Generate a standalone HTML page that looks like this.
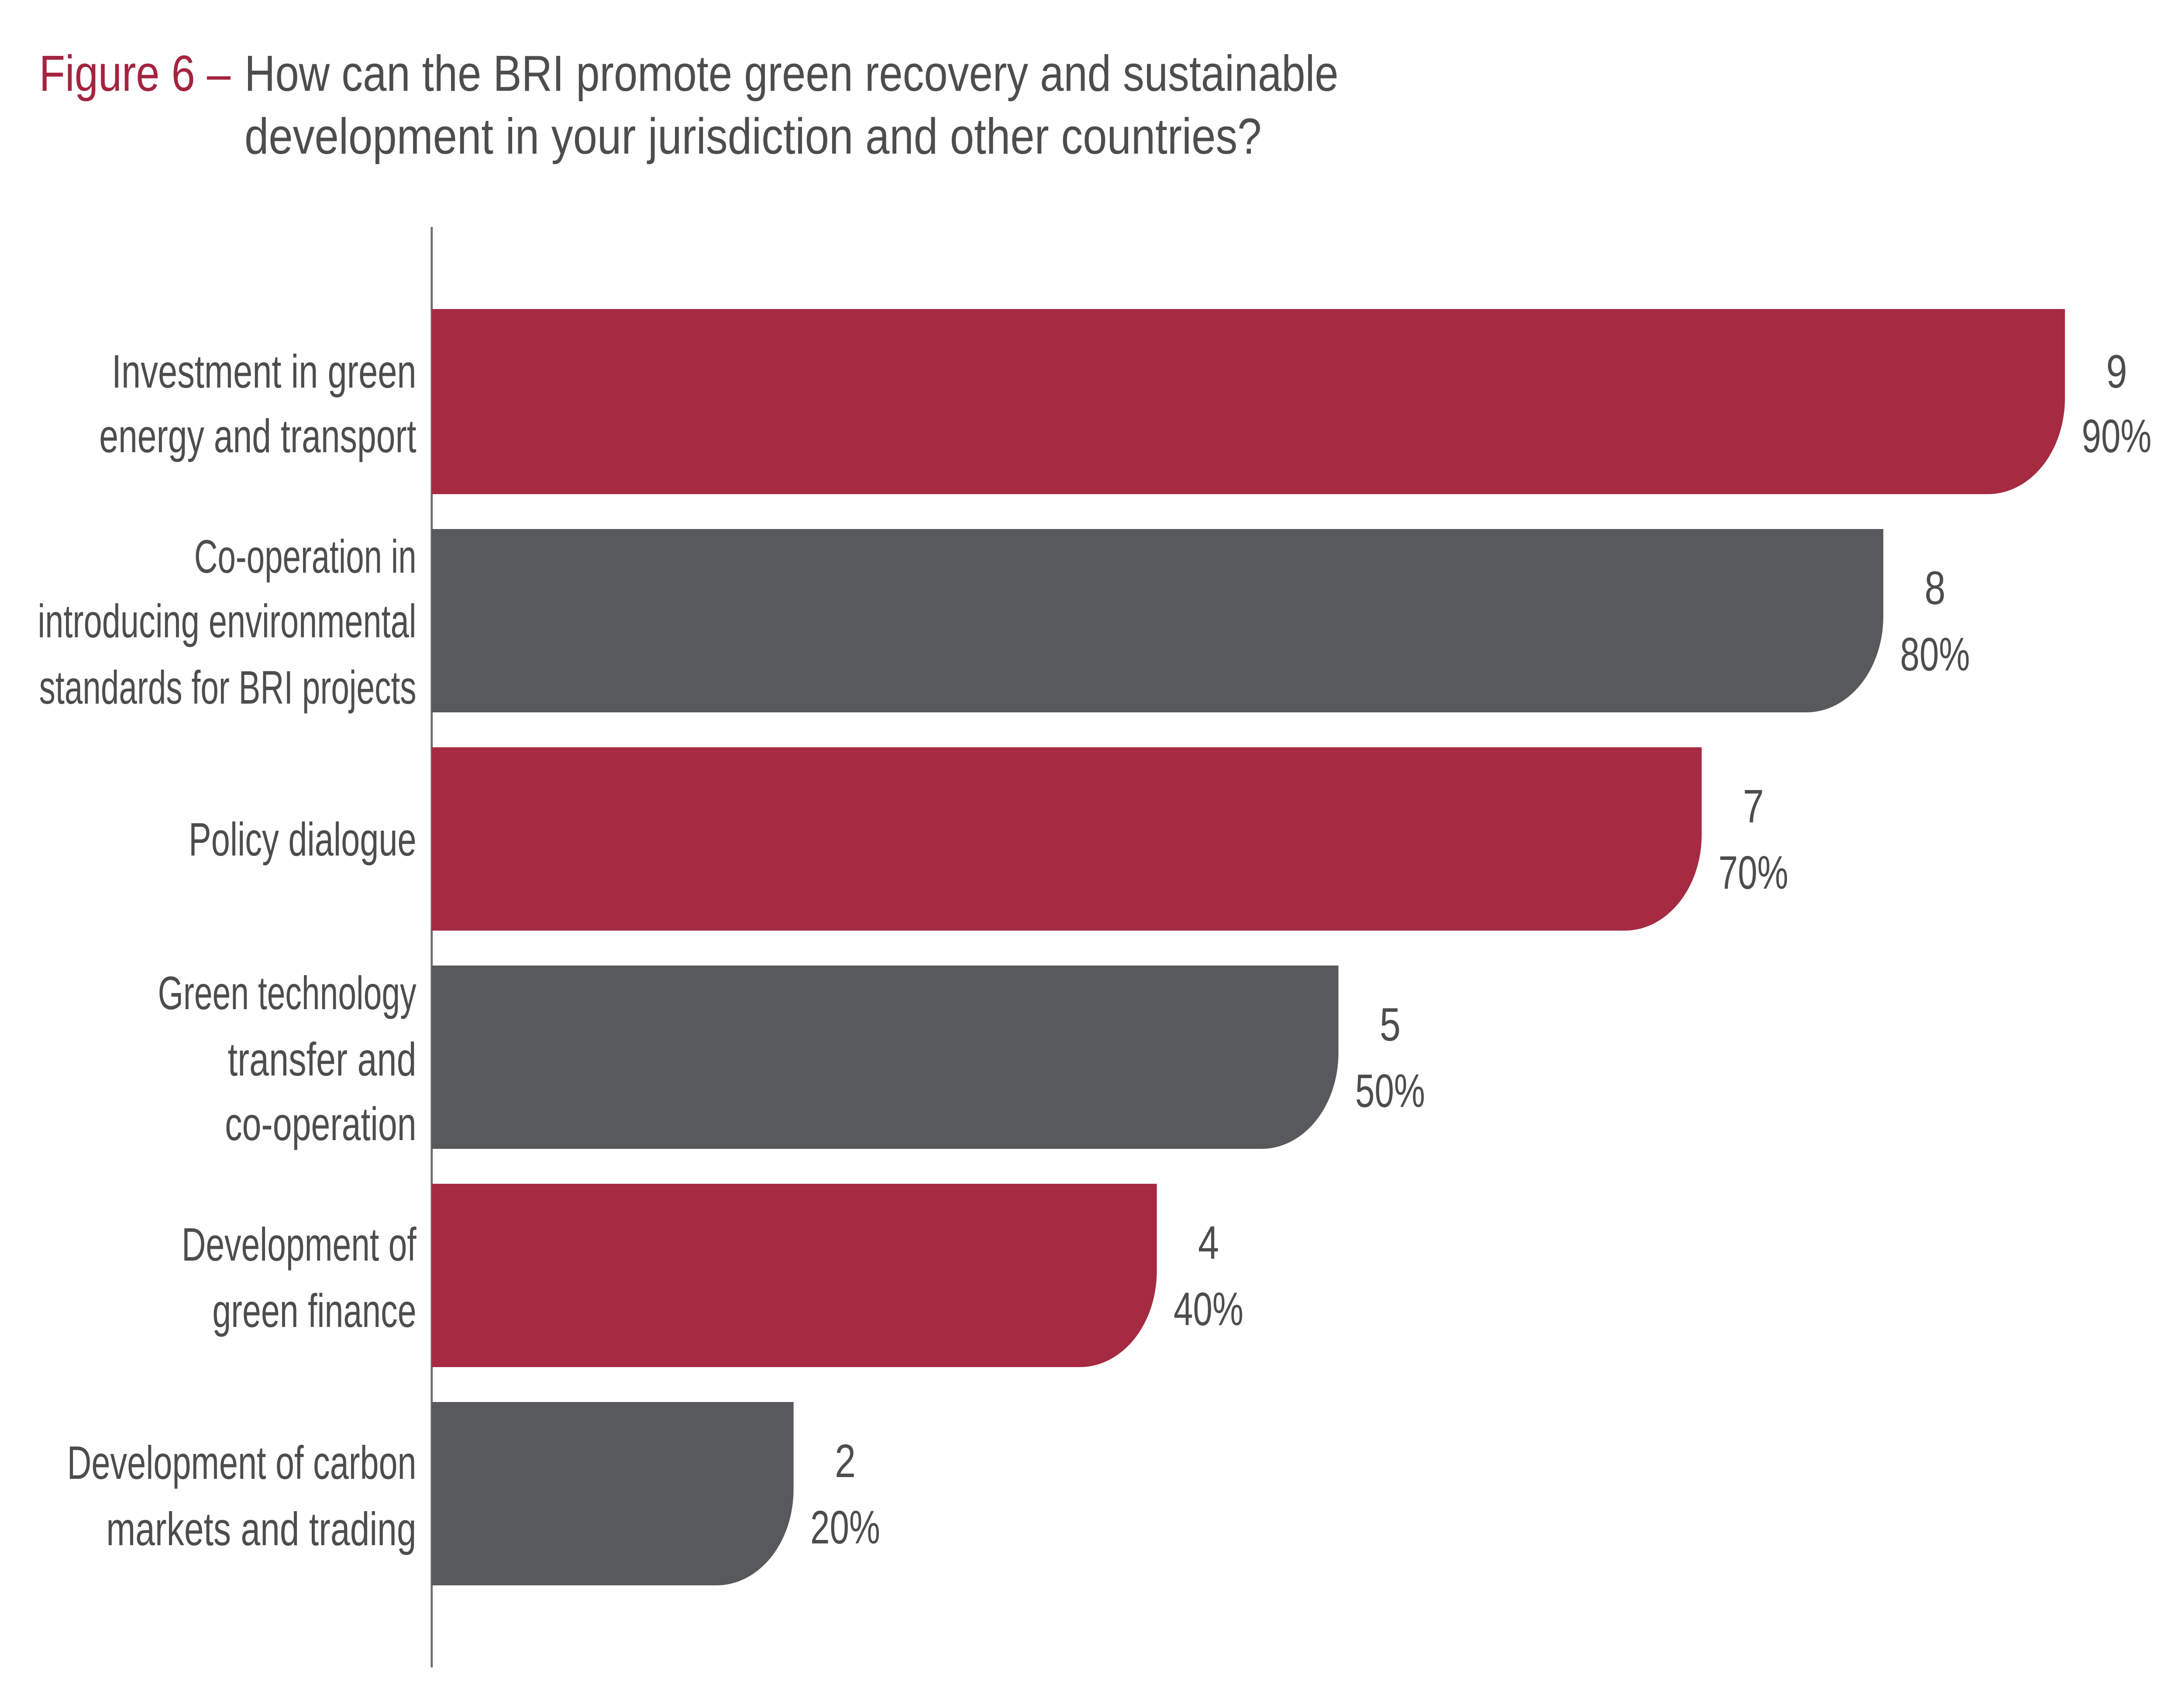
<!DOCTYPE html>
<html><head><meta charset="utf-8"><style>
html,body{margin:0;padding:0;background:#fff;width:100%;height:100%;overflow:hidden;}
svg{display:block;width:100vw;height:100vh;}
text{font-family:"Liberation Sans",sans-serif;fill:#4d4d4f;}
</style></head><body>
<svg viewBox="0 0 1562.5 978.25" preserveAspectRatio="none" xmlns="http://www.w3.org/2000/svg">
<rect width="1562.5" height="978.25" fill="#fff"/>
<text x="28" y="52" font-size="29" style="fill:#a3243f" textLength="137" lengthAdjust="spacingAndGlyphs">Figure 6 –</text>
<text x="175" y="52" font-size="29" textLength="783" lengthAdjust="spacingAndGlyphs">How can the BRI promote green recovery and sustainable</text>
<text x="175" y="88" font-size="29" textLength="728" lengthAdjust="spacingAndGlyphs">development in your jurisdiction and other countries?</text>
<line x1="309" y1="130" x2="309" y2="955" stroke="#6d6e70" stroke-width="1.5"/>
<g>
<path d="M309 177 H1478 V228 A55 55 0 0 1 1423 283 H309 Z" fill="#a52a42"/>
<path d="M309 303 H1348 V353 A55 55 0 0 1 1293 408 H309 Z" fill="#58595b"/>
<path d="M309 428 H1218 V478 A55 55 0 0 1 1163 533 H309 Z" fill="#a52a42"/>
<path d="M309 553 H958 V603 A55 55 0 0 1 903 658 H309 Z" fill="#58595b"/>
<path d="M309 678 H828 V728 A55 55 0 0 1 773 783 H309 Z" fill="#a52a42"/>
<path d="M309 803 H568 V853 A55 55 0 0 1 513 908 H309 Z" fill="#58595b"/>
</g>
<g font-size="27" text-anchor="end">
<text x="298" y="222" textLength="218" lengthAdjust="spacingAndGlyphs">Investment in green</text>
<text x="298" y="259" textLength="227" lengthAdjust="spacingAndGlyphs">energy and transport</text>
<text x="298" y="328" textLength="159" lengthAdjust="spacingAndGlyphs">Co-operation in</text>
<text x="298" y="365" textLength="271" lengthAdjust="spacingAndGlyphs">introducing environmental</text>
<text x="298" y="403" textLength="270" lengthAdjust="spacingAndGlyphs">standards for BRI projects</text>
<text x="298" y="490" textLength="163" lengthAdjust="spacingAndGlyphs">Policy dialogue</text>
<text x="298" y="578" textLength="185" lengthAdjust="spacingAndGlyphs">Green technology</text>
<text x="298" y="616" textLength="135" lengthAdjust="spacingAndGlyphs">transfer and</text>
<text x="298" y="653" textLength="137" lengthAdjust="spacingAndGlyphs">co-operation</text>
<text x="298" y="722" textLength="168" lengthAdjust="spacingAndGlyphs">Development of</text>
<text x="298" y="760" textLength="146" lengthAdjust="spacingAndGlyphs">green finance</text>
<text x="298" y="847" textLength="250" lengthAdjust="spacingAndGlyphs">Development of carbon</text>
<text x="298" y="885" textLength="222" lengthAdjust="spacingAndGlyphs">markets and trading</text>
</g>
<g font-size="27" text-anchor="middle">
<text x="1515" y="222">9</text><text x="1515" y="259" textLength="50" lengthAdjust="spacingAndGlyphs">90%</text>
<text x="1385" y="346">8</text><text x="1385" y="384" textLength="50" lengthAdjust="spacingAndGlyphs">80%</text>
<text x="1255" y="471">7</text><text x="1255" y="509" textLength="50" lengthAdjust="spacingAndGlyphs">70%</text>
<text x="995" y="596">5</text><text x="995" y="634" textLength="50" lengthAdjust="spacingAndGlyphs">50%</text>
<text x="865" y="721">4</text><text x="865" y="759" textLength="50" lengthAdjust="spacingAndGlyphs">40%</text>
<text x="605" y="846">2</text><text x="605" y="884" textLength="50" lengthAdjust="spacingAndGlyphs">20%</text>
</g>
</svg>
</body></html>
